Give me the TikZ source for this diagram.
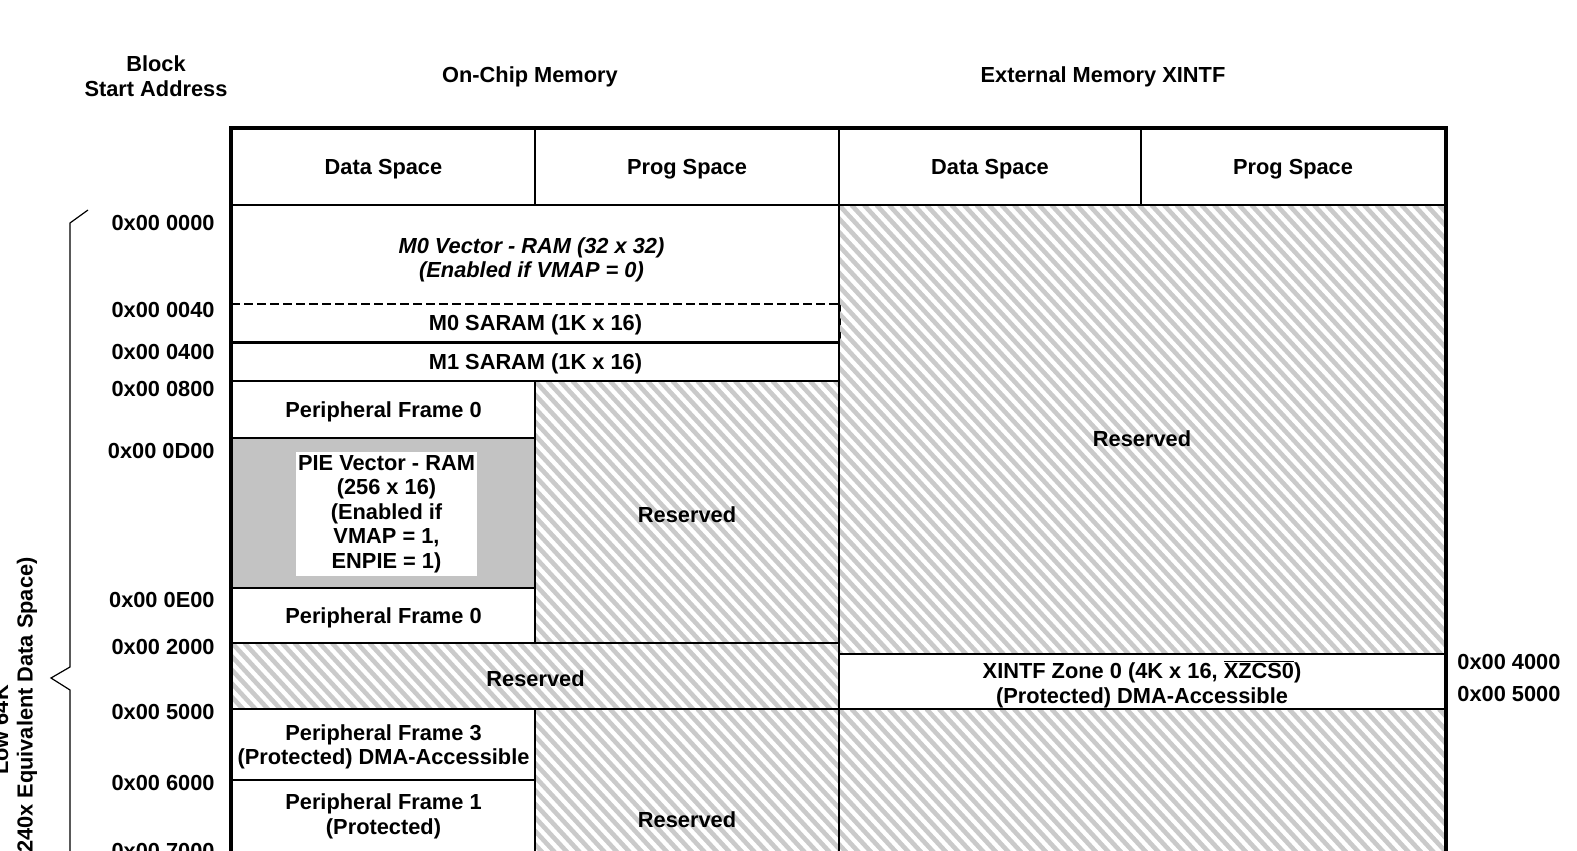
\documentclass[tikz,border=0pt]{standalone}
\usepackage{fontspec}
\setmainfont{Liberation Sans}
\usetikzlibrary{fit,positioning}
\definecolor{hatchGray}{HTML}{CACACA}
\definecolor{pieGray}{HTML}{C3C3C3}

\begin{document}
\begin{tikzpicture}[
  x=0.5pt, y=-0.5pt,
  font=\fontsize{10.9}{12.3}\selectfont\bfseries,
  cell/.style={draw, line width=0.75pt, inner sep=0pt, fit={#1}},
  headcell/.style={cell={#1}, line width=1pt},
  txt/.style={label={[align=center, inner sep=0pt, yshift=-1.2pt]center:{#1}}},
  hatched/.style={path picture={
    \foreach \k in {-42,...,55}
      \draw[hatchGray, line width=2.3pt]
        ([xshift=\k*6.25pt]path picture bounding box.north west) -- ++(240pt,-260pt);
  }},
  addr/.style={anchor=east, inner sep=0pt},
  addrright/.style={anchor=west, inner sep=0pt},
  title/.style={align=center, inner sep=0pt},
]
\useasboundingbox (0,0) rectangle (1577,850);
\clip (0,0) rectangle (1577,850);

% Column titles
\node[title] (blk) at (156,76) {Block\\Start Address};
\node[title] (onchip) at (530,77) {On-Chip Memory};
\node[title] (extmem) at (1103,77) {External Memory XINTF};

% Header row
\node[headcell={(232,129) (535,205)}, txt={Data Space}] (hd1) {};
\node[headcell={(535,129) (839,205)}, txt={Prog Space}] (hp1) {};
\node[headcell={(839,129) (1141,205)}, txt={Data Space}] (hd2) {};
\node[headcell={(1141,129) (1445,205)}, txt={Prog Space}] (hp2) {};

% On-chip: shared rows
\node[cell={(232,205) (839,303)}, draw=none,
      label={[align=center, inner sep=0pt, yshift=-3pt, xshift=-2pt]center:{\itshape M0 Vector - RAM (32 x 32)\\\itshape (Enabled if VMAP = 0)}}] (m0vec) {};
\node[cell={(232,303) (839,342)}, draw=none, txt={M0 SARAM (1K x 16)}] (m0sar) {};
\draw[line width=0.75pt] (m0sar.north west) -- (m0sar.south west) -- (m0sar.south east) -- (m0sar.north east);
\draw[line width=0.75pt, dash pattern=on 4.5pt off 2pt] (m0vec.south west) -- (m0vec.south east);
\node[cell={(232,342) (839,381)}, txt={M1 SARAM (1K x 16)}] (m1sar) {};

% On-chip: data space column
\node[cell={(232,381) (535,438)}, txt={Peripheral Frame 0}] (pf0a) {};
\node[cell={(232,438) (535,588)}, fill=pieGray, line width=1.2pt] (pie) {};
\node[fill=white, inner sep=0pt, minimum width=90.5pt, minimum height=62pt, align=center] (pietxt)
  at (386.5,514) {PIE Vector - RAM\\(256 x 16)\\(Enabled if\\VMAP = 1,\\ENPIE = 1)};
\node[cell={(232,588) (535,643)}, txt={Peripheral Frame 0}] (pf0b) {};

% On-chip: reserved areas
\node[cell={(535,381) (839,643)}, hatched, txt={Reserved}] (progres) {};
\node[cell={(232,643) (839,709)}, hatched, txt={Reserved}] (rowres) {};

% On-chip: lower blocks
\node[cell={(232,709) (535,780)}, txt={Peripheral Frame 3\\(Protected) DMA-Accessible}] (pf3) {};
\node[cell={(232,780) (535,848)}, draw=none, txt={Peripheral Frame 1\\(Protected)}] (pf1) {};
\node[cell={(535,709) (839,925)}, hatched, txt={Reserved}] (progres2) {};

% External memory XINTF
\node[cell={(839,205) (1445,654)}, hatched, label={[yshift=-4.5pt]center:Reserved}] (extres) {};
\node[cell={(839,654) (1445,709)},
      txt={XINTF Zone 0 (4K x 16, $\overline{\hbox{XZCS0}}$)\\(Protected) DMA-Accessible}] (xintf) {};
\node[cell={(839,709) (1445,925)}, hatched] (extres2) {};

% Outer frame
\draw[line width=2pt, line join=miter] (hd1.south west |- 0,900) -- (hd1.north west) -- (hp2.north east) -- (hp2.south east |- 0,900);

% Block start addresses
\node[addr] (a0000) at (215,223) {0x00 0000};
\node[addr] (a0040) at (215,310) {0x00 0040};
\node[addr] (a0400) at (215,352) {0x00 0400};
\node[addr] (a0800) at (215,389) {0x00 0800};
\node[addr] (a0d00) at (215,451) {0x00 0D00};
\node[addr] (a0e00) at (215,600) {0x00 0E00};
\node[addr] (a2000) at (215,647) {0x00 2000};
\node[addr] (a5000) at (215,712) {0x00 5000};
\node[addr] (a6000) at (215,783) {0x00 6000};
\node[addr] (a7000) at (215,851) {0x00 7000};
\node[addrright] (x4000) at (1457,662) {0x00 4000};
\node[addrright] (x5000) at (1457,694) {0x00 5000};

% Brace for the low 64K
\draw[line width=0.6pt] (88,210) -- (70,223) -- (70,667) -- (51,678) -- (70,690) -- (70,900);
\node[rotate=90, align=center, inner sep=0pt] (low64) at (15,730) {Low 64K\\(24x/240x Equivalent Data Space)};

\end{tikzpicture}
\end{document}
